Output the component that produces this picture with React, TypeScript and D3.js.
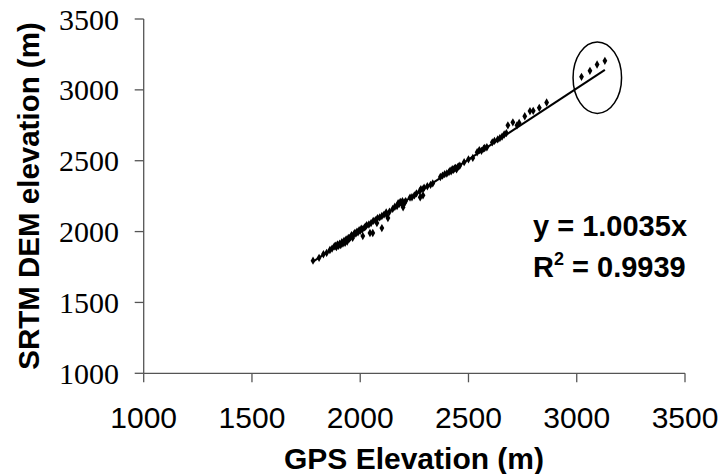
import React from "react";
import * as d3 from "d3";

const gpsElevation = [
  1782, 1810, 1830, 1845, 1860, 1870,
  1880, 1885, 1890, 1895, 1900, 1905, 1910, 1915, 1920, 1925, 1930, 1935, 1940, 1945, 1950, 1955, 1960, 1965,
  1970, 1975, 1980, 1985, 1990, 1995, 2000, 2005, 2010, 2020, 2025, 2030, 2040, 2050, 2060,
  2012, 2045, 2058, 2100, 2077, 2128, 2123,
  2070, 2080, 2090, 2100, 2110, 2120, 2135, 2150, 2160, 2170, 2180, 2190,
  2175, 2185, 2195, 2205, 2200, 2210, 2198, 2277, 2290, 2239,
  2230, 2250, 2260, 2275, 2290,
  2280, 2295, 2310, 2325, 2335,
  2370, 2380, 2390, 2400, 2410, 2415, 2420, 2425, 2430, 2435, 2440, 2445, 2450, 2455, 2460,
  2480, 2500, 2520,
  2540, 2550, 2560, 2570, 2575, 2585,
  2610, 2620, 2635, 2645, 2655, 2665, 2675,
  2682, 2705, 2724,
  2734, 2760, 2784, 2799, 2827, 2861,
  3022, 3061, 3094, 3130,
];

const srtmElevation = [
  1795, 1815, 1840, 1850, 1870, 1880,
  1895, 1900, 1890, 1910, 1900, 1915, 1905, 1925, 1915, 1935, 1920, 1945, 1930, 1955, 1950, 1960, 1975, 1955,
  1980, 1990, 1985, 2000, 1995, 2010, 2005, 2020, 2015, 2030, 2035, 2045, 2050, 2060, 2075,
  1968, 1990, 1990, 2025, 2060, 2096, 2116,
  2080, 2095, 2100, 2110, 2120, 2135, 2140, 2160, 2175, 2180, 2195, 2200,
  2200, 2210, 2215, 2205, 2190, 2215, 2171, 2242, 2256, 2242,
  2240, 2255, 2270, 2285, 2300,
  2300, 2310, 2320, 2330, 2340,
  2385, 2395, 2405, 2410, 2420, 2430, 2425, 2440, 2435, 2445, 2450, 2440, 2455, 2460, 2465,
  2490, 2510, 2520,
  2560, 2575, 2570, 2585, 2590, 2595,
  2630, 2640, 2650, 2660, 2670, 2685, 2695,
  2750, 2771, 2750,
  2767, 2814, 2850, 2852, 2873, 2911,
  3092, 3134, 3179, 3205,
];

const xTicks = [1000, 1500, 2000, 2500, 3000, 3500];
const yTicks = [1000, 1500, 2000, 2500, 3000, 3500];
const slope = 1.0035;
const equationLabel = "y = 1.0035x";
const rSquaredValue = "0.9939";
const xTitle = "GPS Elevation (m)";
const yTitle = "SRTM DEM elevation (m)";
// highlighted outlier region (data units): center x, center y, radius x, radius y
const highlight = [3095, 3086, 112, 252];

export default function App() {
  const W = 722;
  const H = 474;
  const x = d3.scaleLinear().domain([1000, 3500]).range([143.7, 685]);
  const y = d3.scaleLinear().domain([1000, 3500]).range([373.3, 19]);

  const points = gpsElevation.map((g, i) => [g, srtmElevation[i]] as [number, number]);
  const xMin = d3.min(gpsElevation) as number;
  const xMax = d3.max(gpsElevation) as number;
  const line = d3
    .line<number>()
    .x((d) => x(d))
    .y((d) => y(slope * d));
  const diamond = d3.symbol(d3.symbolDiamond, 20)() as string;

  const axisColor = "#555";
  const [hx, hy, hrx, hry] = highlight;

  return (
    <svg
      width={W}
      height={H}
      style={{ position: "absolute", left: 0, top: 0, background: "#fff" }}
    >
      <rect width={W} height={H} fill="#fff" />
      {/* axes */}
      <line x1={x(1000)} x2={x(3500)} y1={y(1000)} y2={y(1000)} stroke={axisColor} strokeWidth={1.3} />
      <line x1={x(1000)} x2={x(1000)} y1={y(1000)} y2={y(3500)} stroke={axisColor} strokeWidth={1.3} />
      {xTicks.map((t) => (
        <g key={"xt" + t}>
          <line x1={x(t)} x2={x(t)} y1={y(1000)} y2={y(1000) + 9} stroke={axisColor} strokeWidth={1.3} />
          <text
            x={x(t)}
            y={428}
            textAnchor="middle"
            fontFamily="'Liberation Sans', Arial, sans-serif"
            fontSize={30}
            fill="#000"
          >
            {t}
          </text>
        </g>
      ))}
      {yTicks.map((t) => (
        <g key={"yt" + t}>
          <line x1={x(1000) - 9} x2={x(1000)} y1={y(t)} y2={y(t)} stroke={axisColor} strokeWidth={1.3} />
          <text
            x={119}
            y={y(t) + 10.5}
            textAnchor="end"
            fontFamily="'Liberation Serif', 'Times New Roman', serif"
            fontSize={30}
            fill="#000"
          >
            {t}
          </text>
        </g>
      ))}
      {/* regression line */}
      <path d={line([xMin, xMax]) as string} stroke="#000" strokeWidth={2} fill="none" />
      {/* points */}
      {points.map((p, i) => (
        <path key={i} d={diamond} transform={`translate(${x(p[0])},${y(p[1])})`} fill="#000" />
      ))}
      {/* highlight ellipse */}
      <ellipse
        cx={x(hx)}
        cy={y(hy)}
        rx={x(hx + hrx) - x(hx)}
        ry={y(hy) - y(hy + hry)}
        fill="none"
        stroke="#000"
        strokeWidth={1.5}
      />
      {/* equation */}
      <text
        x={533}
        y={236}
        fontFamily="'Liberation Sans', Arial, sans-serif"
        fontWeight="bold"
        fontSize={29}
        fill="#000"
      >
        {equationLabel}
      </text>
      <text
        x={533}
        y={277}
        fontFamily="'Liberation Sans', Arial, sans-serif"
        fontWeight="bold"
        fontSize={29}
        fill="#000"
      >
        R
        <tspan fontSize={18} dy={-12}>2</tspan>
        <tspan dy={12}>{" = " + rSquaredValue}</tspan>
      </text>
      {/* axis titles */}
      <text
        x={414}
        y={469}
        textAnchor="middle"
        fontFamily="'Liberation Sans', Arial, sans-serif"
        fontWeight="bold"
        fontSize={30}
        fill="#000"
      >
        {xTitle}
      </text>
      <text
        transform="translate(39,196) rotate(-90)"
        textAnchor="middle"
        fontFamily="'Liberation Sans', Arial, sans-serif"
        fontWeight="bold"
        fontSize={29.5}
        fill="#000"
      >
        {yTitle}
      </text>
    </svg>
  );
}
